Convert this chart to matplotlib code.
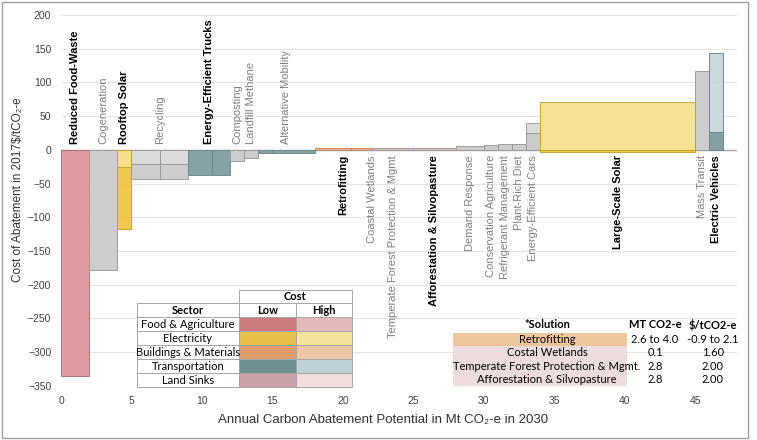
import matplotlib.pyplot as plt
from matplotlib.patches import Rectangle
import numpy as np

plt.rcParams['font.family'] = ['Liberation Sans', 'DejaVu Sans']

# solutions in order of the curve
solutions = ['Reduced Food-Waste', 'Cogeneration', 'Rooftop Solar', 'Recycling',
             'Energy-Efficient Trucks', 'Composting', 'Landfill Methane',
             'Alternative Mobility', 'Retrofitting', 'Coastal Wetlands',
             'Temperate Forest Protection & Mgmt', 'Afforestation & Silvopasture',
             'Demand Response', 'Conservation Agriculture', 'Refrigerant Management',
             'Plant-Rich Diet', 'Energy-Efficient Cars', 'Large-Scale Solar',
             'Mass Transit', 'Electric Vehicles']
mt_high = [2.0, 2.0, 1.0, 4.0, 3.0, 1.0, 1.0, 4.0, 4.0, 0.1, 2.9, 3.0,
           2.0, 1.0, 1.0, 1.0, 1.0, 11.0, 1.0, 1.0]
mt_low = [None, None, None, 2.0, 1.7, None, None, 1.0, 2.6, None, None, None,
          None, None, None, None, None, None, None, None]
cost_low = [-336, -178, -118, -43.5, -37, -17, -11.5, -5, -0.9, 1.6, 2.0, 2.0,
            6.4, 7.2, 8.4, 9.4, 25.7, -3.5, 117, 27]
cost_high = [-336, -178, -26, -21, -37, -17, -11.5, -5, 2.1, 1.6, 2.0, 2.0,
             6.4, 7.2, 8.4, 9.4, 40.5, 70.6, 117, 144]
sector = ['food', 'other', 'elec', 'other', 'trans', 'other', 'other', 'trans',
          'build', 'land', 'land', 'land', 'other', 'other', 'other', 'other',
          'other', 'elec', 'other', 'trans']
bold = [True, False, True, False, True, False, False, False, True, False, False,
        True, False, False, False, False, False, True, False, True]

# legend table
table_sectors = ['Food & Agriculture', 'Electricity', 'Buildings & Materials',
                 'Transportation', 'Land Sinks']
table_keys = ['food', 'elec', 'build', 'trans', 'land']

# solution notes table
note_names = ['Retrofitting', 'Costal Wetlands', 'Temperate Forest Protection & Mgmt.',
              'Afforestation & Silvopasture']
note_mt = ['2.6 to 4.0', '0.1', '2.8', '2.8']
note_cost = ['-0.9 to 2.1', '1.60', '2.00', '2.00']

bar_colors = {
    'food': ('#e0969b', '#e0969b', '#b07074'),
    'other': ('#cbcbcb', '#dcdcdc', '#9a9a9a'),
    'elec': ('#efc641', '#f8e08e', '#c9a233'),
    'build': ('#d9a07a', '#e6b898', '#c0845c'),
    'trans': ('#7f9ea1', '#c7d7da', '#6c8a8c'),
    'land': ('#d8b8bb', '#e6d0d0', '#a89a9a'),
}
table_colors = {
    'food': ('#cd7a7f', '#e3b9bc'),
    'elec': ('#e8bf4a', '#f5e29b'),
    'build': ('#df9c6b', '#ecc6a5'),
    'trans': ('#6f8e8f', '#bdd1d6'),
    'land': ('#c9a1a7', '#f2dcdc'),
}

fig = plt.figure(figsize=(7.57, 4.40), dpi=100)
ax = fig.add_axes([0.0806, 0.123, 0.8934, 0.843])

lefts = np.concatenate([[0], np.cumsum(mt_high)[:-1]])

for i, name in enumerate(solutions):
    lo_c, hi_c, edge = bar_colors[sector[i]]
    x0, w = lefts[i], mt_high[i]
    pairs = [(cost_low[i], lo_c), (cost_high[i], hi_c)]
    if cost_low[i] == cost_high[i]:
        pairs = [(cost_low[i], lo_c)]
    # bigger bar first, the smaller one on top
    pairs.sort(key=lambda p: -abs(p[0]))
    for val, col in pairs:
        ax.bar(x0, val, w, align='edge', color=col, edgecolor=edge,
               linewidth=0.7, alpha=0.95, zorder=3)
    if mt_low[i] is not None:
        ext = [v for v, _ in pairs]
        ax.plot([x0 + mt_low[i]] * 2, [min(ext + [0]), max(ext + [0])],
                color=edge, lw=0.7, zorder=4)

    cx = x0 + w / 2
    lc = 'black' if bold[i] else '#7f7f7f'
    fw = 'bold' if bold[i] else 'normal'
    if max(cost_low[i], cost_high[i]) <= 0:
        ax.text(cx, 9, name, rotation=90, ha='center', va='bottom',
                fontsize=8, color=lc, fontweight=fw, zorder=5)
    else:
        ax.text(cx, -8, name, rotation=90, ha='center', va='top',
                fontsize=8, color=lc, fontweight=fw, zorder=5)

ax.axhline(0, color='#a6a6a6', lw=1.0, zorder=2)
ax.set_xlim(0, 48)
ax.set_ylim(-350, 200)
ax.set_yticks(np.arange(-350, 201, 50))
ax.set_xticks(np.arange(0, 46, 5))
ax.grid(axis='y', color='#e4e4e4', lw=0.8, zorder=0)
ax.tick_params(length=0, labelsize=7.5, colors='#404040', pad=7)
for s in ax.spines.values():
    s.set_visible(False)
ax.set_ylabel('Cost of Abatement in 2017$/tCO₂-e', fontsize=8.5, color='#303030')
ax.yaxis.set_label_coords(-0.054, 0.53)
ax.set_xlabel('Annual Carbon Abatement Potential in Mt CO₂-e in 2030', fontsize=9.5,
              color='#303030')
ax.xaxis.set_label_coords(0.476, -0.075)

# overlay in pixel coordinates for the two tables and the frame
ov = fig.add_axes([0, 0, 1, 1])
ov.set_xlim(0, 757)
ov.set_ylim(440, 0)
ov.axis('off')
ov.add_patch(Rectangle((2, 2), 746, 436, fill=False, edgecolor='#a0a0a0', lw=1))

tf = ['Lato', 'DejaVu Sans']
tfs = 8
cols = [137, 239, 296, 352]
rows = [290, 303, 317, 331, 345, 359, 373, 387]
grid_c = '#a6a6a6'


def cell(x0, y0, x1, y1, face='white'):
    ov.add_patch(Rectangle((x0, y0), x1 - x0, y1 - y0, facecolor=face,
                           edgecolor=grid_c, lw=0.7))


cell(cols[1], rows[0], cols[3], rows[1])
ov.text((cols[1] + cols[3]) / 2, (rows[0] + rows[1]) / 2, 'Cost', ha='center',
        va='center', fontsize=tfs, fontweight='bold', family=tf)
for j, lab in enumerate(['Sector', 'Low', 'High']):
    cell(cols[j], rows[1], cols[j + 1], rows[2])
    ov.text((cols[j] + cols[j + 1]) / 2, (rows[1] + rows[2]) / 2, lab, ha='center',
            va='center', fontsize=tfs, fontweight='bold', family=tf)
for k, (lab, key) in enumerate(zip(table_sectors, table_keys)):
    y0, y1 = rows[k + 2], rows[k + 3]
    cell(cols[0], y0, cols[1], y1)
    cell(cols[1], y0, cols[2], y1, table_colors[key][0])
    cell(cols[2], y0, cols[3], y1, table_colors[key][1])
    ov.text((cols[0] + cols[1]) / 2, (y0 + y1) / 2, lab, ha='center', va='center',
            fontsize=tfs, family=tf)

# solution notes
ov.add_patch(Rectangle((453, 333), 174, 13, facecolor='#efc59c', edgecolor='none'))
ov.add_patch(Rectangle((453, 346), 174, 40, facecolor='#ecdcdb', edgecolor='none'))
ncx = [547, 655, 713]
for j, lab in enumerate(['*Solution', 'MT CO2-e', '$/tCO2-e']):
    ov.text(ncx[j], 325, lab, ha='center', va='center', fontsize=tfs,
            fontweight='bold', family=tf)
ny = [339.5, 352.5, 366, 379.5]
for k in range(len(note_names)):
    for j, lab in enumerate([note_names[k], note_mt[k], note_cost[k]]):
        ov.text(ncx[j], ny[k], lab, ha='center', va='center', fontsize=tfs, family=tf)

fig.savefig('out.png', dpi=100)
